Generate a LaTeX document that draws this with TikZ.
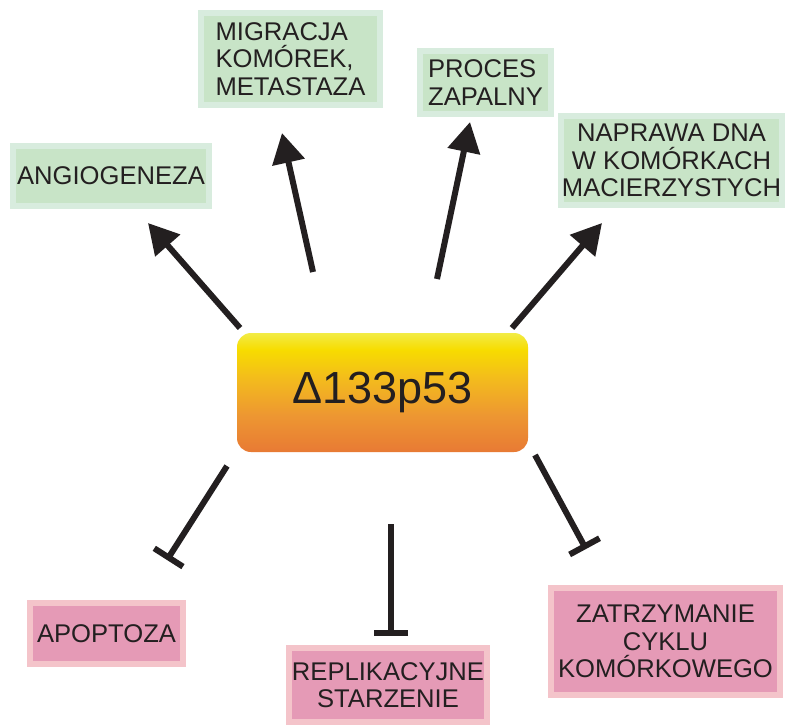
\documentclass[tikz,border=0pt]{standalone}
\usepackage{fontspec}
\setmainfont{Liberation Sans}
\usetikzlibrary{arrows.meta}
\definecolor{gfill}{RGB}{200,228,199}
\definecolor{gbord}{RGB}{216,236,222}
\definecolor{pfill}{RGB}{229,154,182}
\definecolor{pbord}{RGB}{244,196,202}
\definecolor{ink}{RGB}{35,31,32}
\definecolor{cA}{RGB}{232,122,52}
\definecolor{cB}{RGB}{237,150,50}
\definecolor{cC}{RGB}{243,185,30}
\definecolor{cD}{RGB}{247,220,0}
\definecolor{cE}{RGB}{242,236,70}
\pgfdeclareverticalshading{coreshade}{100bp}{color(0bp)=(cA); color(25bp)=(cA); color(40bp)=(cB); color(55bp)=(cC); color(68bp)=(cD); color(75bp)=(cE); color(100bp)=(cE)}
\tikzset{
  gbox/.style={draw=gbord, fill=gfill, line width=6pt, inner sep=0pt, align=center, text=ink, font=\fontsize{25.6}{27.5}\selectfont},
  pbox/.style={gbox, draw=pbord, fill=pfill},
  core/.style={shading=coreshade, rounded corners=14pt, inner sep=0pt, text=ink, font=\fontsize{45}{50}\selectfont, minimum width=291pt, minimum height=119pt},
  act/.style={line width=6pt, draw=ink, -{Triangle[length=30pt,width=32pt]}},
  inh/.style={line width=6pt, draw=ink, -{Bar[width=34pt]}}
}
\begin{document}
\begin{tikzpicture}[x=1pt,y=-1pt]
\useasboundingbox (0,0) rectangle (786,725);
\fill[white] (0,0) rectangle (786,725);

\node[core] (core) at (382.5,392.5) {Δ133p53};

\node[gbox, minimum width=196pt, minimum height=60pt] (angio) at (111,176) {ANGIOGENEZA};
\node[gbox, align=left, minimum width=179pt, minimum height=92pt] (migr) at (290.5,59) {MIGRACJA\\KOMÓREK,\\METASTAZA};
\node[gbox, align=left, minimum width=131pt, minimum height=63pt] (zap) at (485.5,82.5) {PROCES\\ZAPALNY};
\node[gbox, minimum width=221pt, minimum height=89pt] (dna) at (671.5,160.5) {NAPRAWA DNA\\W KOMÓRKACH\\MACIERZYSTYCH};

\node[pbox, minimum width=153pt, minimum height=61pt] (apo) at (106.5,633.5) {APOPTOZA};
\node[pbox, minimum width=198pt, minimum height=74pt] (repl) at (388,685) {REPLIKACYJNE\\STARZENIE};
\node[pbox, minimum width=229pt, minimum height=107pt] (cykl) at (665.5,641.5) {ZATRZYMANIE\\CYKLU\\KOMÓRKOWEGO};

\coordinate (a1s) at (240,328); \coordinate (a1e) at (148,223);
\coordinate (a2s) at (313,272); \coordinate (a2e) at (282,133);
\coordinate (a3s) at (437,279); \coordinate (a3e) at (470,122);
\coordinate (a4s) at (512,328); \coordinate (a4e) at (602,223);
\coordinate (i1s) at (227,466); \coordinate (i1e) at (167,560);
\coordinate (i2s) at (391,524); \coordinate (i2e) at (391,636);
\coordinate (i3s) at (535,455); \coordinate (i3e) at (586,549);

\draw[act] (a1s) -- (a1e);
\draw[act] (a2s) -- (a2e);
\draw[act] (a3s) -- (a3e);
\draw[act] (a4s) -- (a4e);
\draw[inh] (i1s) -- (i1e);
\draw[inh] (i2s) -- (i2e);
\draw[inh] (i3s) -- (i3e);
\end{tikzpicture}
\end{document}
